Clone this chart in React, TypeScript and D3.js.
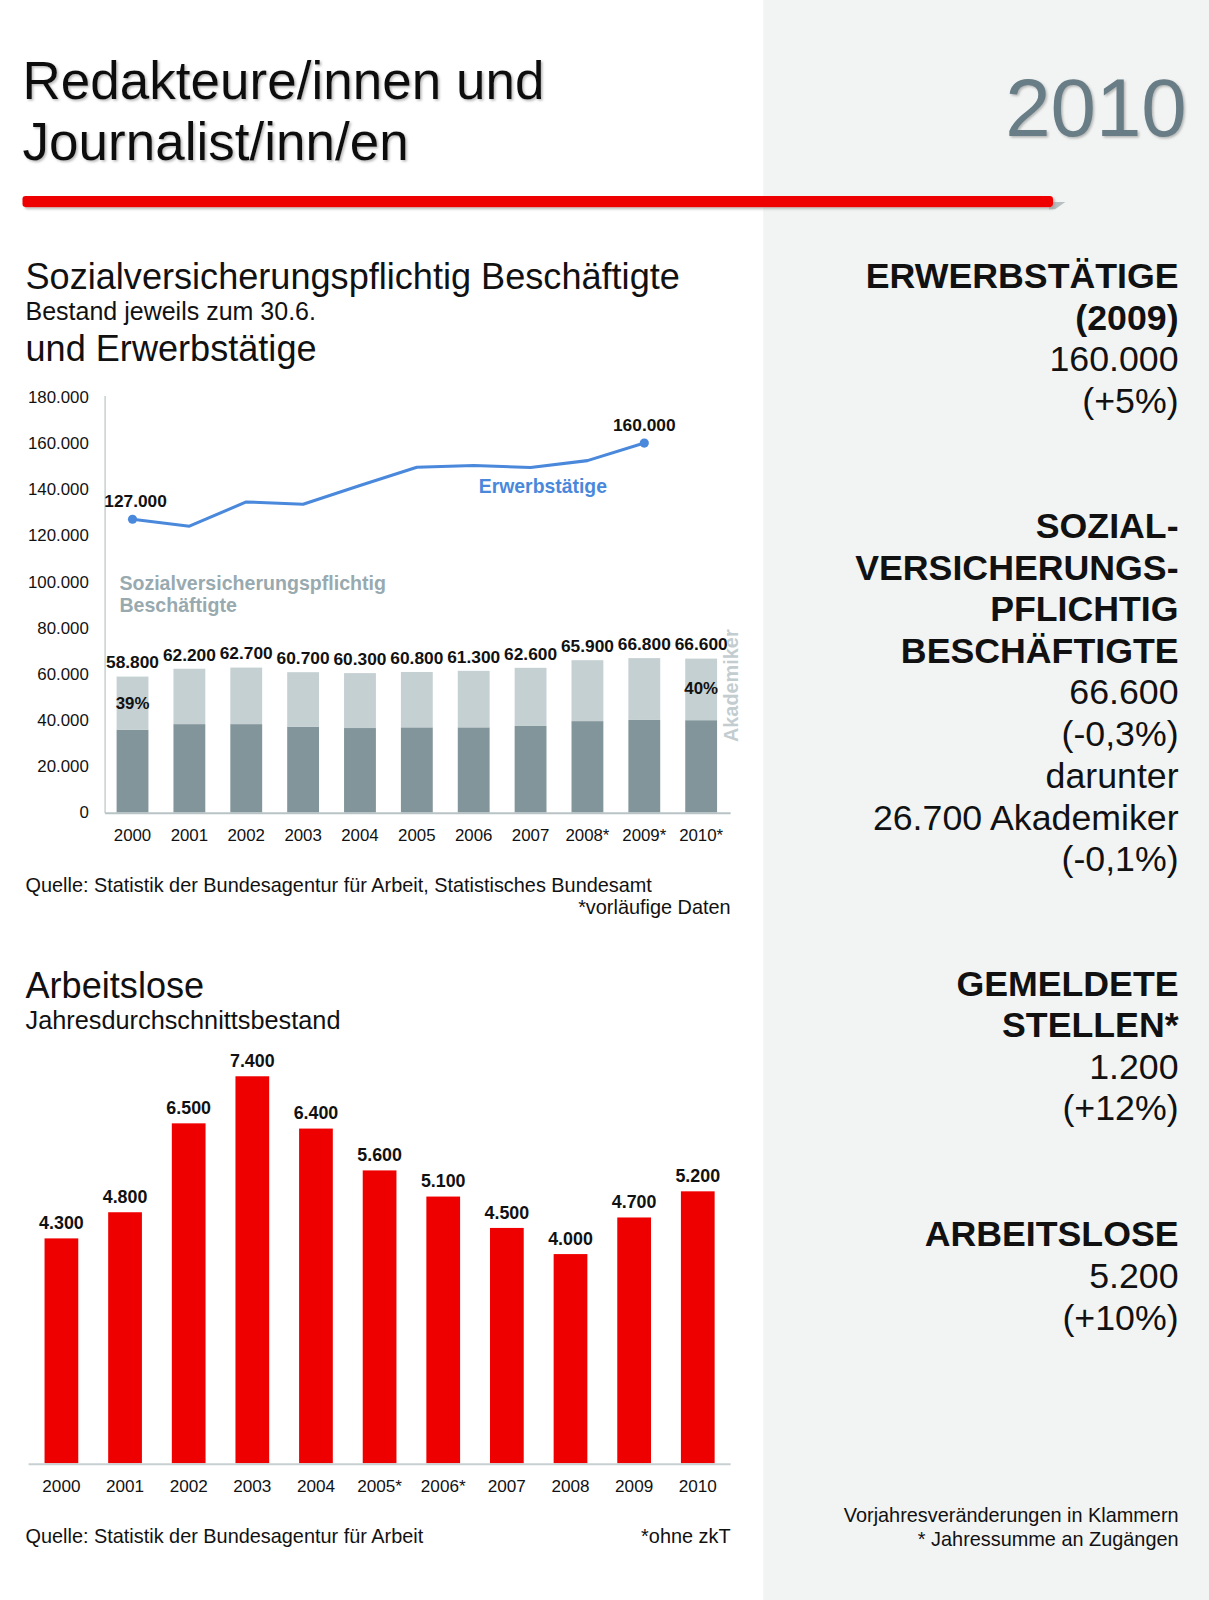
import React from "react";
import * as d3 from "d3";

const years1 = ["2000", "2001", "2002", "2003", "2004", "2005", "2006", "2007", "2008*", "2009*", "2010*"];
const beschaeftigte = [58800, 62200, 62700, 60700, 60300, 60800, 61300, 62600, 65900, 66800, 66600];
const akademiker = [23000, 24000, 24500, 23600, 23800, 24000, 24500, 25200, 26400, 26800, 26700];
const erwerbYears = ["2000", "2001", "2002", "2003", "2004", "2005", "2006", "2007", "2008*", "2009*"];
const erwerbstaetige = [127000, 124000, 134500, 133500, 141600, 149500, 150300, 149400, 152400, 160000];
const yTicks1 = [0, 20000, 40000, 60000, 80000, 100000, 120000, 140000, 160000, 180000];

const years2 = ["2000", "2001", "2002", "2003", "2004", "2005*", "2006*", "2007", "2008", "2009", "2010"];
const arbeitslose = [4300, 4800, 6500, 7400, 6400, 5600, 5100, 4500, 4000, 4700, 5200];

const sideLines: [string, boolean, number][] = [
  ["ERWERBSTÄTIGE", true, 282],
  ["(2009)", true, 323],
  ["160.000", false, 364],
  ["(+5%)", false, 405],
  ["SOZIAL-", true, 527],
  ["VERSICHERUNGS-", true, 568],
  ["PFLICHTIG", true, 609],
  ["BESCHÄFTIGTE", true, 650],
  ["66.600", false, 690],
  ["(-0,3%)", false, 731],
  ["darunter", false, 772],
  ["26.700 Akademiker", false, 813],
  ["(-0,1%)", false, 854],
  ["GEMELDETE", true, 976],
  ["STELLEN*", true, 1016],
  ["1.200", false, 1057],
  ["(+12%)", false, 1098],
  ["ARBEITSLOSE", true, 1221],
  ["5.200", false, 1262],
  ["(+10%)", false, 1303],
];

const fmt = (v: number) => d3.format(",")(v).replace(/,/g, ".");
const FONT = "'Liberation Sans', Arial, Helvetica, sans-serif";
const K = 1600 / 1568;

export default function App() {
  // Chart 1
  const x1 = d3.scaleBand<string>().domain(years1).range([102, 715]).paddingInner(0.44).paddingOuter(0.22);
  const y1 = d3.scaleLinear().domain([0, 180000]).range([796, 389]);
  const line = d3
    .line<number>()
    .x((_, i) => (x1(erwerbYears[i]) as number) + x1.bandwidth() / 2)
    .y((d) => y1(d));

  // Chart 2
  const x2 = d3.scaleBand<string>().domain(years2).range([29, 715]).paddingInner(0.47).paddingOuter(0.235);
  const y2 = d3.scaleLinear().domain([0, 8000]).range([1434, 1024]);

  const bw1 = x1.bandwidth();
  const bw2 = x2.bandwidth();
  const lastE = erwerbstaetige.length - 1;

  return (
    <svg
      width={1209}
      height={1600}
      viewBox="0 0 1209 1600"
      style={{ position: "absolute", left: 0, top: 0, display: "block", fontFamily: FONT }}
    >
      <defs>
        <filter id="shadow" x="-5%" y="-5%" width="110%" height="120%">
          <feDropShadow dx="1.5" dy="1.5" stdDeviation="1" floodColor="#888" floodOpacity="0.6" />
        </filter>
        <filter id="barShadow" x="-2%" y="-50%" width="104%" height="250%">
          <feDropShadow dx="2" dy="2" stdDeviation="1.2" floodColor="#999" floodOpacity="0.6" />
        </filter>
      </defs>
      <rect x={0} y={0} width={1209} height={1600} fill="#ffffff" />
      <g transform={`scale(${K})`}>
        <rect x={748} y={0} width={470} height={1600} fill="#f2f4f4" />

        {/* Title */}
        <g filter="url(#shadow)" fill="#111">
          <text x={22} y={97} fontSize={52}>Redakteure/innen und</text>
          <text x={22} y={157} fontSize={52}>Journalist/inn/en</text>
        </g>
        <text x={1163} y={133} fontSize={80} textAnchor="end" fill="#677d86" filter="url(#shadow)">
          2010
        </text>

        {/* red rule */}
        <polygon points="1028,198 1044,198 1034,205 1028,205" fill="#b8bfc2" />
        <rect x={22} y={192} width={1010} height={11} rx={3} fill="#ee0000" filter="url(#barShadow)" />

        {/* Section 1 headings */}
        <text x={25} y={283} fontSize={35.4} fill="#111">Sozialversicherungspflichtig Beschäftigte</text>
        <text x={25} y={314} fontSize={24.5} fill="#111">Bestand jeweils zum 30.6.</text>
        <text x={25} y={354} fontSize={35.4} fill="#111">und Erwerbstätige</text>

        {/* Chart 1 axes */}
        <line x1={103} x2={103} y1={388} y2={797} stroke="#c9d0d2" strokeWidth={1.5} />
        <line x1={103} x2={716} y1={797} y2={797} stroke="#b9c3c6" strokeWidth={2} />
        {yTicks1.map((t) => (
          <text key={t} x={87} y={y1(t) + 6} fontSize={16.5} textAnchor="end" fill="#111">
            {fmt(t)}
          </text>
        ))}
        {years1.map((yr) => (
          <text key={yr} x={(x1(yr) as number) + bw1 / 2} y={824} fontSize={16.5} textAnchor="middle" fill="#111">
            {yr}
          </text>
        ))}

        {/* stacked bars */}
        {years1.map((yr, i) => {
          const x = x1(yr) as number;
          const total = beschaeftigte[i];
          const rest = total - akademiker[i];
          return (
            <g key={yr}>
              <rect x={x} y={y1(rest)} width={bw1} height={y1(0) - y1(rest)} fill="#82959a" />
              <rect x={x} y={y1(total)} width={bw1} height={y1(rest) - y1(total)} fill="#c5d0d2" />
              <text
                x={x + bw1 / 2}
                y={y1(total) - 8}
                fontSize={17}
                fontWeight="bold"
                textAnchor="middle"
                fill="#111"
              >
                {fmt(total)}
              </text>
            </g>
          );
        })}
        <text
          x={(x1(years1[0]) as number) + bw1 / 2}
          y={695}
          fontSize={16.5}
          fontWeight="bold"
          textAnchor="middle"
          fill="#111"
        >
          {Math.round((akademiker[0] / beschaeftigte[0]) * 100)}%
        </text>
        <text
          x={(x1(years1[10]) as number) + bw1 / 2}
          y={680}
          fontSize={16.5}
          fontWeight="bold"
          textAnchor="middle"
          fill="#111"
        >
          {Math.round((akademiker[10] / beschaeftigte[10]) * 100)}%
        </text>
        <text
          transform="translate(723,672) rotate(-90)"
          fontSize={19.5}
          fontWeight="bold"
          textAnchor="middle"
          fill="#c3cdd0"
        >
          Akademiker
        </text>

        {/* line */}
        <path d={line(erwerbstaetige) || ""} fill="none" stroke="#4a88dc" strokeWidth={3} strokeLinejoin="round" />
        <circle cx={(x1(erwerbYears[0]) as number) + bw1 / 2} cy={y1(erwerbstaetige[0])} r={4.5} fill="#4a88dc" />
        <circle
          cx={(x1(erwerbYears[lastE]) as number) + bw1 / 2}
          cy={y1(erwerbstaetige[lastE])}
          r={4.5}
          fill="#4a88dc"
        />
        <text
          x={(x1(erwerbYears[0]) as number) + bw1 / 2 + 3}
          y={y1(erwerbstaetige[0]) - 12}
          fontSize={17}
          fontWeight="bold"
          textAnchor="middle"
          fill="#111"
        >
          {fmt(erwerbstaetige[0])}
        </text>
        <text
          x={(x1(erwerbYears[lastE]) as number) + bw1 / 2}
          y={y1(erwerbstaetige[lastE]) - 12}
          fontSize={17}
          fontWeight="bold"
          textAnchor="middle"
          fill="#111"
        >
          {fmt(erwerbstaetige[lastE])}
        </text>
        <text x={532} y={483} fontSize={19} fontWeight="bold" textAnchor="middle" fill="#4a88dc">
          Erwerbstätige
        </text>
        <text x={117} y={578} fontSize={19.2} fontWeight="bold" fill="#98aaaf">
          Sozialversicherungspflichtig
        </text>
        <text x={117} y={600} fontSize={19.2} fontWeight="bold" fill="#98aaaf">
          Beschäftigte
        </text>

        <text x={25} y={874} fontSize={19.5} fill="#111">
          Quelle: Statistik der Bundesagentur für Arbeit, Statistisches Bundesamt
        </text>
        <text x={716} y={896} fontSize={19.5} textAnchor="end" fill="#111">
          *vorläufige Daten
        </text>

        {/* Section 2 */}
        <text x={25} y={978} fontSize={35.4} fill="#111">Arbeitslose</text>
        <text x={25} y={1008} fontSize={24.8} fill="#111">Jahresdurchschnittsbestand</text>

        {years2.map((yr, i) => {
          const x = x2(yr) as number;
          const v = arbeitslose[i];
          return (
            <g key={yr}>
              <rect x={x} y={y2(v)} width={bw2} height={y2(0) - y2(v)} fill="#ee0000" />
              <text x={x + bw2 / 2} y={y2(v) - 9} fontSize={17.5} fontWeight="bold" textAnchor="middle" fill="#111">
                {fmt(v)}
              </text>
              <text x={x + bw2 / 2} y={1462} fontSize={16.8} textAnchor="middle" fill="#111">
                {yr}
              </text>
            </g>
          );
        })}
        <line x1={28} x2={716} y1={1435} y2={1435} stroke="#c9d0d2" strokeWidth={2} />

        <text x={25} y={1512} fontSize={19.5} fill="#111">
          Quelle: Statistik der Bundesagentur für Arbeit
        </text>
        <text x={716} y={1512} fontSize={19.5} textAnchor="end" fill="#111">
          *ohne zkT
        </text>

        {/* Side panel */}
        {sideLines.map(([t, b, y]) => (
          <text
            key={t + y}
            x={1155}
            y={y}
            fontSize={35}
            fontWeight={b ? "bold" : "normal"}
            textAnchor="end"
            fill="#111"
          >
            {t}
          </text>
        ))}
        <text x={1155} y={1492} fontSize={19.5} textAnchor="end" fill="#111">
          Vorjahresveränderungen in Klammern
        </text>
        <text x={1155} y={1515} fontSize={19.5} textAnchor="end" fill="#111">
          * Jahressumme an Zugängen
        </text>
      </g>
    </svg>
  );
}
